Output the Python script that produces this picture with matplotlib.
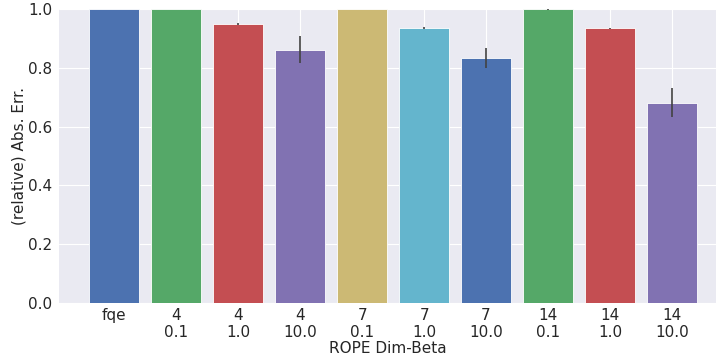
import numpy as np
import matplotlib
matplotlib.use("Agg")
import matplotlib.pyplot as plt
import seaborn as sns

# --- data -------------------------------------------------------------
labels = ["fqe", "4\n0.1", "4\n1.0", "4\n10.0", "7\n0.1", "7\n1.0",
          "7\n10.0", "14\n0.1", "14\n1.0", "14\n10.0"]
values = [1.0, 1.0, 0.949, 0.861, 1.0, 0.936, 0.834, 1.0, 0.934, 0.681]
errors = [0.0, 0.0, 0.003, 0.046, 0.0, 0.003, 0.035, 0.003, 0.003, 0.050]

sns.set_style("darkgrid")
plt.rcParams["font.family"] = ["DejaVu Sans"]
palette = ["#4C72B0", "#55A868", "#C44E52", "#8172B2", "#CCB974",
           "#64B5CD", "#4C72B0", "#55A868", "#C44E52", "#8172B2"]

fig = plt.figure(figsize=(7.16, 3.62), dpi=100)
ax = fig.add_axes([59 / 716, (362 - 303) / 362, (716 - 59) / 716, (303 - 9) / 362])

x = np.arange(len(labels))
ax.bar(x, values, width=0.8, color=palette, edgecolor="#ffffff",
       linewidth=0.6, zorder=2)
ax.errorbar(x, values, yerr=errors, fmt="none", ecolor="#424242",
            elinewidth=1.2, capsize=0, zorder=3)

ax.set_xlim(-0.89, 9.71)
ax.set_ylim(0, 1.0)
ax.set_yticks([0.0, 0.2, 0.4, 0.6, 0.8, 1.0])
ax.set_xticks(x)
ax.set_xticklabels(labels, fontsize=11, color="#262626",
                   linespacing=1.15)
ax.tick_params(axis="x", labelsize=11, labelcolor="#262626", pad=0)
ax.tick_params(axis="y", labelsize=11, labelcolor="#262626", pad=1.5)
ax.grid(color="white", linewidth=0.8)
ax.set_ylabel("(relative) Abs. Err.", fontsize=11, color="#262626",
              labelpad=1)
ax.set_xlabel("ROPE Dim-Beta", fontsize=11, color="#262626", labelpad=1)
for s in ax.spines.values():
    s.set_visible(False)

fig.savefig("out.png", dpi=100)
